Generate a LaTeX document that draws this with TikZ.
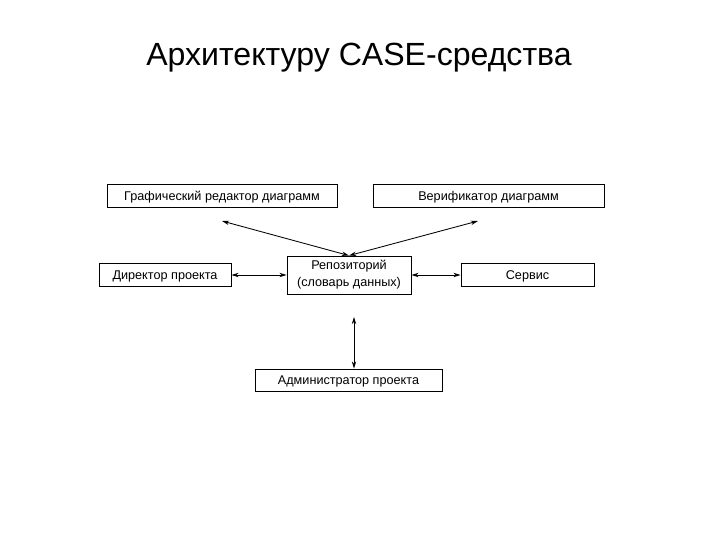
\documentclass[tikz,border=0pt]{standalone}
\usepackage{fontspec}
\setmainfont{Liberation Sans}
\usepackage{tikz}
\usetikzlibrary{arrows.meta,positioning,calc}

\begin{document}
\begin{tikzpicture}[
    x=0.025cm, y=-0.025cm,
    blk/.style={rectangle,draw=black,line width=0.6pt,fill=white,inner sep=1pt,
      minimum height=0.575cm,font=\fontsize{9}{12}\selectfont,align=center},
    one/.style={text depth=0pt},
    link/.style={line width=0.6pt,{Stealth[length=1.8mm,width=1.1mm]}-{Stealth[length=1.8mm,width=1.1mm]}},
  ]
  \useasboundingbox (0,0) rectangle (720,540);
  % Title
  \node[font=\fontsize{22.8}{27}\selectfont] (title) at (359,58) {Архитектуру CASE-средства};
  % Boxes
  \node[blk,one,minimum width=5.75cm] (graf) at (222,195.5) {Графический редактор диаграмм};
  \node[blk,one,minimum width=5.775cm] (verif) at (488.5,195.5) {Верификатор диаграмм};
  \node[blk,one,minimum width=3.3cm] (dir) at (165,275) {Директор проекта};
  \node[blk,minimum width=3.1cm,minimum height=0.95cm] (repo) at (349,275) {Репозиторий\\(словарь данных)};
  \node[blk,one,minimum width=3.325cm] (serv) at (527.5,275) {Сервис};
  \node[blk,one,minimum width=4.675cm,minimum height=0.55cm] (admin) at (348.5,380) {Администратор проекта};
  % Free arrow ends
  \coordinate (gTip) at (222,221);
  \coordinate (vTip) at (478,221);
  \coordinate (aTip) at (354,317);
  % Connectors
  \draw[link] (gTip) -- (repo.north);
  \draw[link] (vTip) -- (repo.north);
  \draw[link] (dir.east) -- (repo.west);
  \draw[link] (repo.east) -- (serv.west);
  \draw[link] (aTip) -- (aTip |- admin.north);
\end{tikzpicture}
\end{document}
